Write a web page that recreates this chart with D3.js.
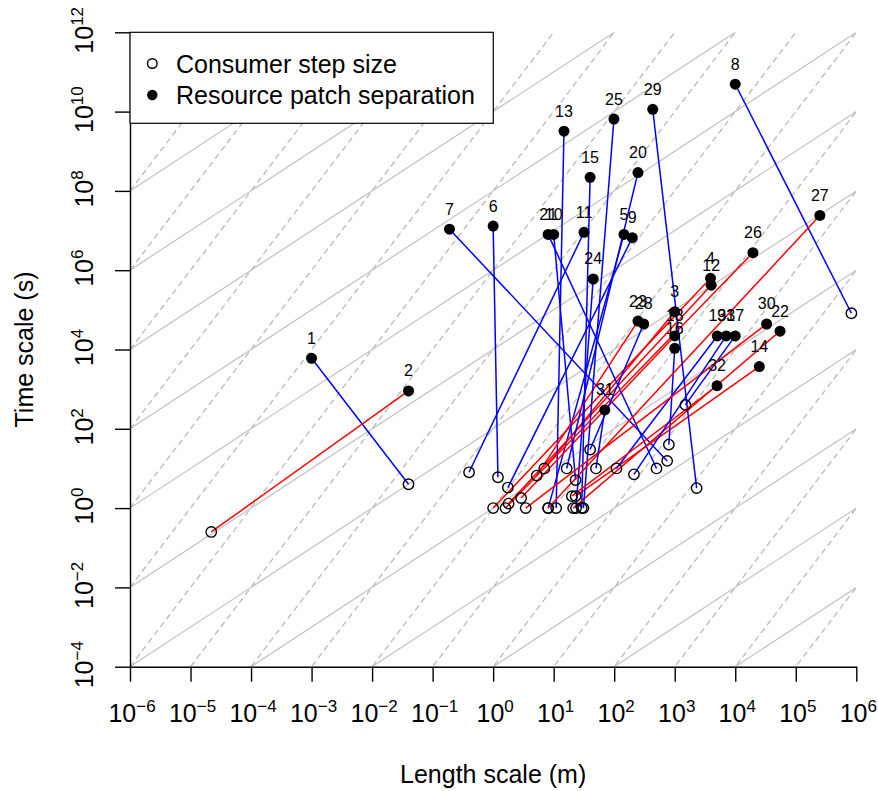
<!DOCTYPE html>
<html lang="en">
<head>
<meta charset="utf-8">
<title>Length and time scales</title>
<script src="https://d3js.org/d3.v7.min.js"></script>
<style>
body { margin: 0; background: #fff; }
svg text { font-family: "Liberation Sans", Arial, sans-serif; fill: #000; }
</style>
</head>
<body>
<script>
// study numbers
const studies = ["1","2","3","4","5","6","7","8","9","10","11","12","13","14","15","16",
  "17","18","19","20","21","22","23","24","25","26","27","28","29","30","31","32","33"];

// consumer step size (open circles): length (m), time (s)
const stepLength = [0.04, 2.2e-5, 7, 1, 8.1, 1.2, 750, 8.3e5, 1.75, 23, 0.4, 1.8, 11, 23, 29, 800,
  1500, 2.9, 109, 16.4, 500, 21, 5.25, 23.4, 31, 1.6, 8.1, 40, 2300, 3.45, 50, 20, 212];
const stepTime = [4, 0.25, 10, 1, 1, 6, 15.5, 8.2e4, 3.3, 5.1, 8, 1.3, 1, 2, 1, 40,
  400, 1.8, 10, 10, 10, 1, 6.6, 1, 1, 1, 1, 30, 3.2, 1, 10, 2, 7.1];

// resource patch separation (filled points): length (m), time (s)
const patchLength = [1e-3, 0.04, 1000, 3900, 145, 1, 0.19, 1e4, 199, 10, 31.7, 4000, 14.8, 2.5e4, 40, 1000,
  1e4, 1000, 5050, 247, 8.1, 5.5e4, 247, 45, 99, 1.96e4, 2.5e5, 307, 433, 3.3e4, 70, 5000, 7100];
const patchTime = [6000, 900, 9e4, 6.25e5, 8e6, 1.3e7, 1.08e7, 4.9e10, 6.6e6, 8e6, 9e6, 4.2e5, 3.2e9, 3700, 2.2e8, 1.07e4,
  2.2e4, 2.2e4, 2.2e4, 2.9e8, 8e6, 2.9e4, 5.2e4, 6e5, 6.5e9, 2.76e6, 2.4e7, 4.4e4, 1.14e10, 4.4e4, 300, 1220, 2.2e4];

// link group of each study
const linkGroup = ["b","a","a","a","b","b","b","b","b","b","b","a","b","a","b","b",
  "b","a","b","b","b","a","a","b","b","a","a","b","b","a","b","a","b"];

// reference lines: log10 speed (t = L / v) and log10 diffusivity (t = L^2 / D)
const speedExp = [-18, -16, -14, -12, -10, -8, -6, -4, -2, 0, 2, 4, 6, 8];
const diffExp = [-24, -22, -20, -18, -16, -14, -12, -10, -8, -6, -4, -2, 0, 2, 4, 6, 8, 10, 12, 14, 16];

const xTicks = [-6, -5, -4, -3, -2, -1, 0, 1, 2, 3, 4, 5, 6];
const yTicks = [-4, -2, 0, 2, 4, 6, 8, 10, 12];

const legendLabels = ["Consumer step size", "Resource patch separation"];

const svgWidth = 878, svgHeight = 791;
const plotLeft = 130, plotRight = 856.3, plotTop = 32.3, plotBottom = 666.7;

const data = studies.map((s, i) => ({
  id: s,
  l1: stepLength[i], t1: stepTime[i],
  l2: patchLength[i], t2: patchTime[i],
  g: linkGroup[i]
}));

const x = d3.scaleLog().domain([1e-6, 1e6]).range([plotLeft, plotRight]);
const y = d3.scaleLog().domain([1e-4, 1e12]).range([plotBottom, plotTop]);
const color = d3.scaleOrdinal().domain(["a", "b"]).range(["#ff0000", "#0000ff"]);

const svg = d3.select("body").append("svg")
  .attr("width", svgWidth)
  .attr("height", svgHeight);

svg.append("clipPath").attr("id", "plotclip")
  .append("rect")
  .attr("x", plotLeft).attr("y", plotTop)
  .attr("width", plotRight - plotLeft).attr("height", plotBottom - plotTop);

const bg = svg.append("g").attr("clip-path", "url(#plotclip)");

const lineGen = d3.line().x(d => x(d[0])).y(d => y(d[1]));

// solid lines of constant speed
bg.selectAll(".speed")
  .data(speedExp)
  .join("path")
  .attr("class", "speed")
  .attr("d", e => lineGen([[1e-6, 1e-6 / Math.pow(10, e)], [1e6, 1e6 / Math.pow(10, e)]]))
  .attr("fill", "none")
  .attr("stroke", "#c2c2c2")
  .attr("stroke-width", 1.2);

// dashed lines of constant diffusivity
bg.selectAll(".diff")
  .data(diffExp)
  .join("path")
  .attr("class", "diff")
  .attr("d", e => lineGen([[1e-6, 1e-12 / Math.pow(10, e)], [1e6, 1e12 / Math.pow(10, e)]]))
  .attr("fill", "none")
  .attr("stroke", "#bababa")
  .attr("stroke-width", 1.3)
  .attr("stroke-dasharray", "6,4");

// axes
svg.append("g")
  .attr("transform", "translate(0," + plotBottom + ")")
  .call(d3.axisBottom(x).tickValues(xTicks.map(e => Math.pow(10, e))).tickSize(15).tickSizeOuter(0).tickFormat(""));

svg.append("g")
  .attr("transform", "translate(" + plotLeft + ",0)")
  .call(d3.axisLeft(y).tickValues(yTicks.map(e => Math.pow(10, e))).tickSize(15).tickSizeOuter(0).tickFormat(""));

svg.selectAll(".domain, .tick line").attr("stroke", "#000").attr("stroke-width", 1.4);

function powerLabel(sel, e) {
  sel.append("tspan").text("10");
  sel.append("tspan")
    .attr("dy", -10)
    .attr("font-size", 17)
    .text(e < 0 ? "\u2212" + Math.abs(e) : String(e));
}

xTicks.forEach(e => {
  const t = svg.append("text")
    .attr("x", x(Math.pow(10, e)) + 2)
    .attr("y", 722)
    .attr("text-anchor", "middle")
    .attr("font-size", 25);
  powerLabel(t, e);
});

yTicks.forEach(e => {
  const t = svg.append("text")
    .attr("transform", "translate(93," + (y(Math.pow(10, e)) - 2) + ") rotate(-90)")
    .attr("text-anchor", "middle")
    .attr("font-size", 25);
  powerLabel(t, e);
});

svg.append("text")
  .attr("x", (plotLeft + plotRight) / 2)
  .attr("y", 783)
  .attr("text-anchor", "middle")
  .attr("font-size", 25)
  .text("Length scale (m)");

svg.append("text")
  .attr("transform", "translate(33," + (plotTop + plotBottom) / 2 + ") rotate(-90)")
  .attr("text-anchor", "middle")
  .attr("font-size", 25)
  .text("Time scale (s)");

// links
svg.append("g").selectAll("line")
  .data(data)
  .join("line")
  .attr("x1", d => x(d.l1)).attr("y1", d => y(d.t1))
  .attr("x2", d => x(d.l2)).attr("y2", d => y(d.t2))
  .attr("stroke", d => color(d.g))
  .attr("stroke-width", 1.5);

// consumer step size
svg.append("g").selectAll("circle")
  .data(data)
  .join("circle")
  .attr("cx", d => x(d.l1)).attr("cy", d => y(d.t1))
  .attr("r", 5.2)
  .attr("fill", "none")
  .attr("stroke", "#000")
  .attr("stroke-width", 1.4);

// resource patch separation
svg.append("g").selectAll("circle")
  .data(data)
  .join("circle")
  .attr("cx", d => x(d.l2)).attr("cy", d => y(d.t2))
  .attr("r", 5.5)
  .attr("fill", "#000");

svg.append("g").selectAll("text")
  .data(data)
  .join("text")
  .attr("x", d => x(d.l2))
  .attr("y", d => y(d.t2) - 14.5)
  .attr("text-anchor", "middle")
  .attr("font-size", 16)
  .text(d => d.id);

// legend
const legend = svg.append("g");
legend.append("rect")
  .attr("x", plotLeft).attr("y", plotTop)
  .attr("width", 493.3 - plotLeft).attr("height", 123.3 - plotTop)
  .attr("fill", "#fff")
  .attr("stroke", "#000")
  .attr("stroke-width", 1.2);

legendLabels.forEach((lab, i) => {
  const cy = 63.5 + i * 31.5;
  legend.append("circle")
    .attr("cx", 152.3).attr("cy", cy)
    .attr("r", i === 0 ? 4.8 : 5.2)
    .attr("fill", i === 0 ? "none" : "#000")
    .attr("stroke", "#000")
    .attr("stroke-width", i === 0 ? 1.4 : 0);
  legend.append("text")
    .attr("x", 176)
    .attr("y", cy + 9)
    .attr("font-size", 25)
    .text(lab);
});
</script>
</body>
</html>
